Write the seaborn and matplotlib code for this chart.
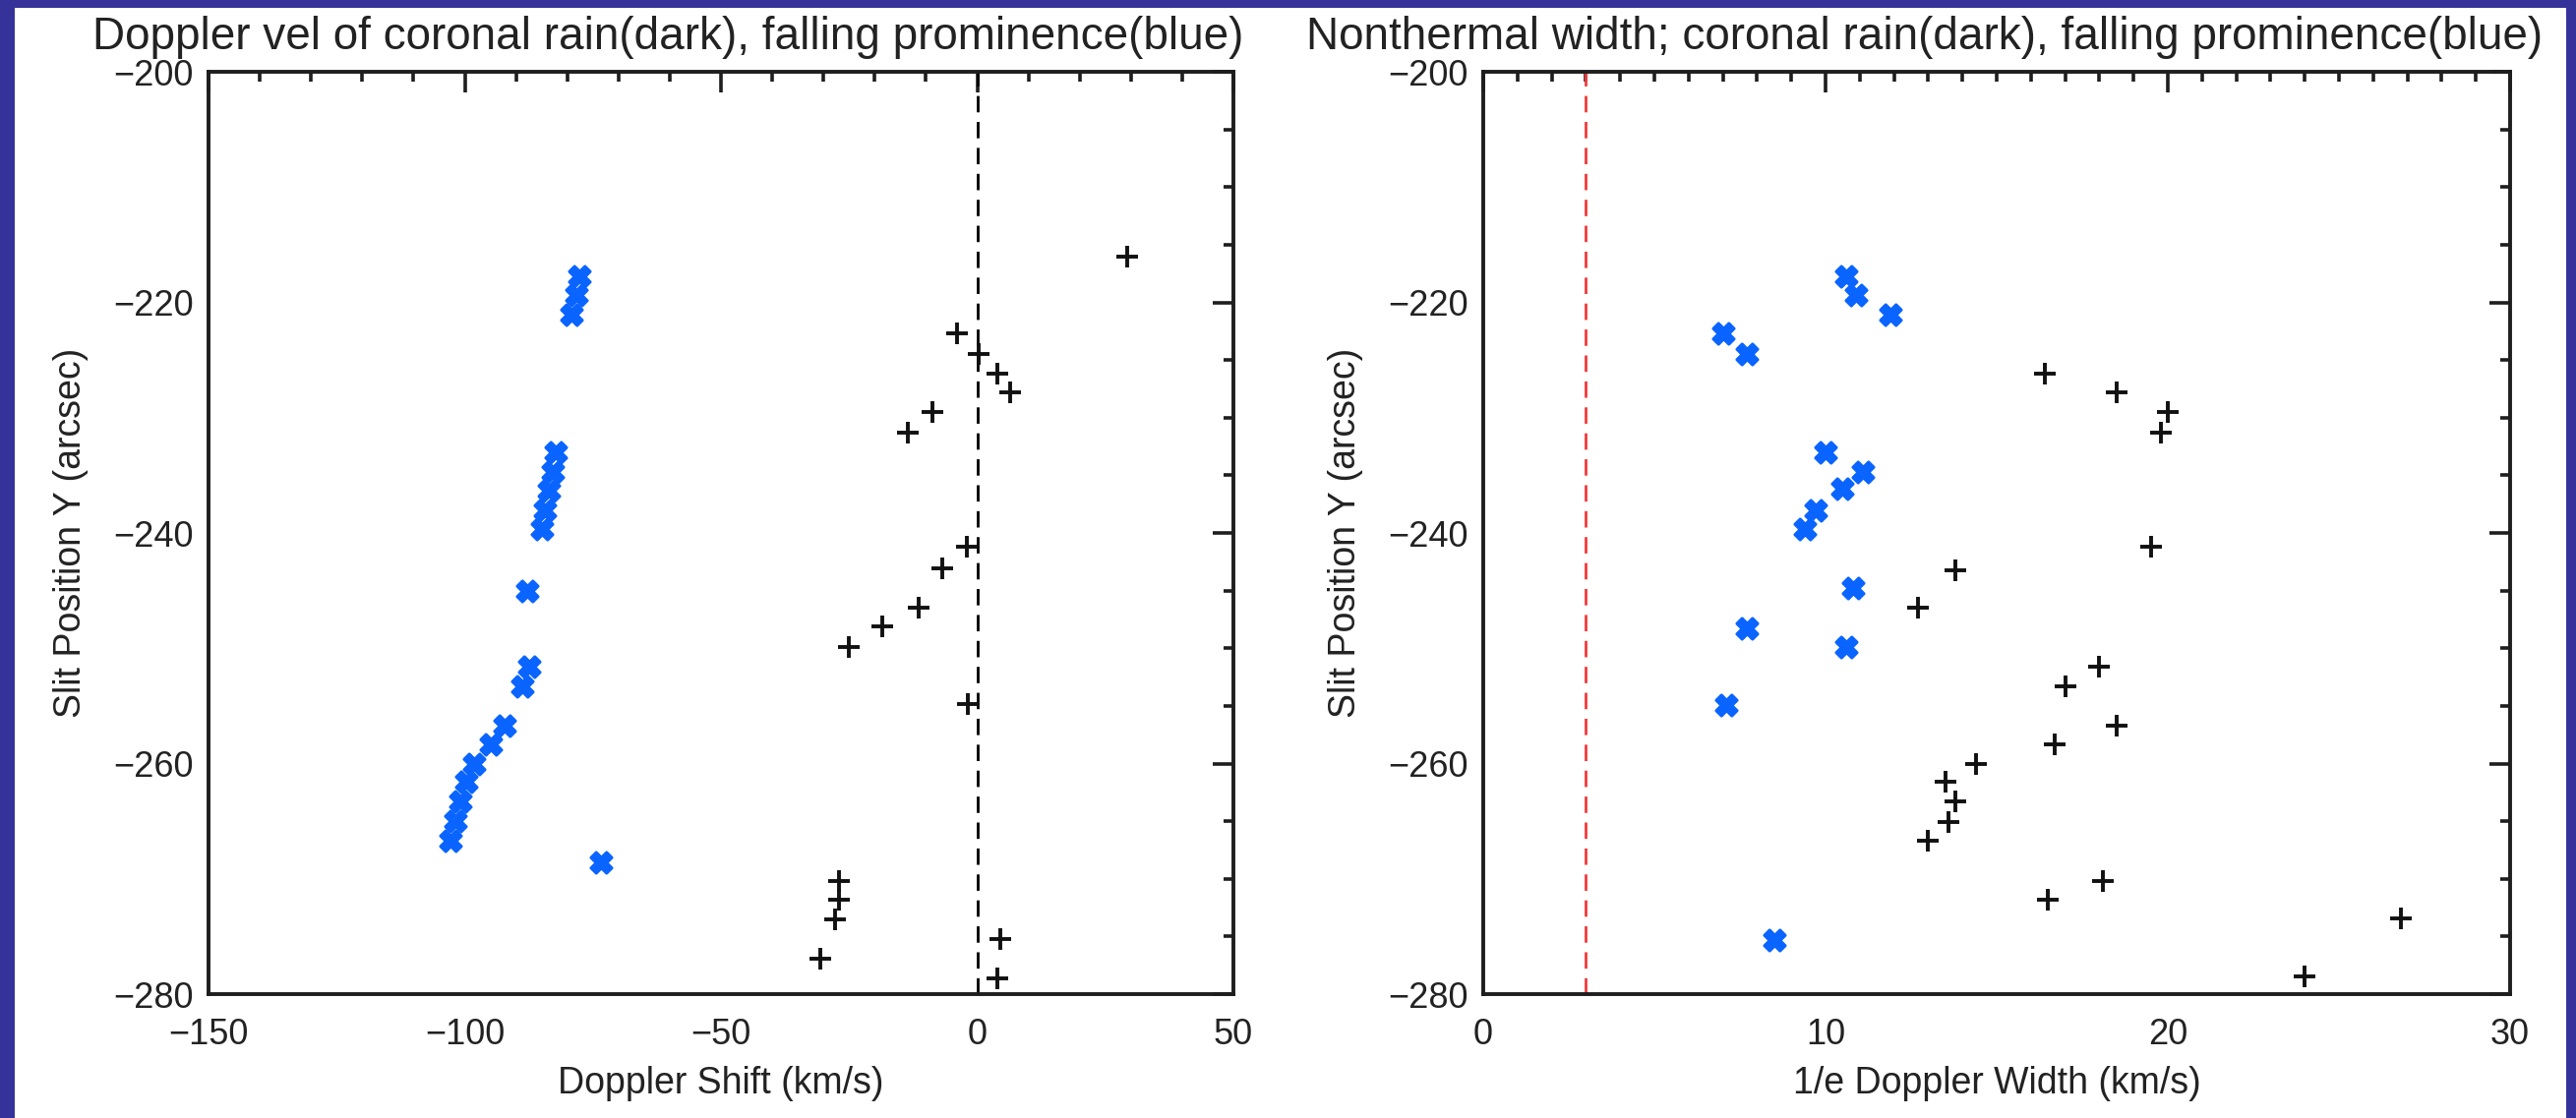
import matplotlib
matplotlib.use("Agg")
import matplotlib.pyplot as plt
from matplotlib.ticker import MultipleLocator
from matplotlib.patches import Rectangle
import pandas as pd
import seaborn as sns

# ---- Doppler velocity (left panel) ----
rain_vel = [29.2, -4.0, 0.3, 4.0, 6.4, -8.8, -13.6, -2.1, -6.9, -11.4,
            -18.6, -25.0, -1.8, -26.9, -26.9, -27.7, -30.6, 4.6, 4.0]
rain_vel_y = [-216.0, -222.7, -224.5, -226.2, -227.8, -229.5, -231.3, -241.2,
              -243.1, -246.5, -248.1, -249.9, -254.8, -270.2, -271.8, -273.5,
              -276.9, -275.2, -278.6]
prom_vel = [-77.6, -78.3, -79.2, -82.3, -82.9, -83.6, -84.4, -85.0, -87.8,
            -87.5, -88.8, -92.2, -95.0, -98.2, -99.7, -100.8, -101.8, -102.8,
            -73.4]
prom_vel_y = [-217.7, -219.4, -221.1, -233.0, -234.7, -236.3, -238.0, -239.7,
              -245.0, -251.6, -253.3, -256.7, -258.3, -260.0, -261.6, -263.3,
              -265.0, -266.7, -268.6]

# ---- Nonthermal width (right panel) ----
rain_width = [16.4, 18.5, 20.0, 19.8, 19.5, 13.8, 12.7, 18.0, 17.0, 18.5,
              16.7, 14.4, 13.5, 13.8, 13.6, 13.0, 18.1, 16.5, 26.8, 24.0]
rain_width_y = [-226.2, -227.8, -229.5, -231.3, -241.2, -243.2, -246.5, -251.6,
                -253.3, -256.7, -258.3, -260.0, -261.6, -263.3, -265.1, -266.7,
                -270.2, -271.8, -273.4, -278.5]
prom_width = [10.6, 10.9, 11.9, 7.0, 7.7, 10.0, 11.1, 10.5, 9.7, 9.4, 10.8,
              7.7, 10.6, 7.1, 8.5]
prom_width_y = [-217.7, -219.4, -221.1, -222.7, -224.5, -233.0, -234.7,
                -236.2, -238.0, -239.7, -244.8, -248.3, -249.9, -254.9, -275.3]

vel_ref = 0.0      # zero-velocity reference
width_ref = 3.0    # instrumental width reference

titles = ["Doppler vel of coronal rain(dark), falling prominence(blue)",
          "Nonthermal width; coronal rain(dark), falling prominence(blue)"]
xlabels = ["Doppler Shift (km/s)", "1/e Doppler Width (km/s)"]
ylabel = "Slit Position Y (arcsec)"

sns.set_style("white")
plt.rcParams["font.family"] = ["Liberation Sans", "DejaVu Sans"]

BORDER = "#35339a"
RAIN = "#111111"
PROM = "#0a64ff"
AXC = "#1e1e1e"

fig = plt.figure(figsize=(26.19, 11.37), dpi=100, facecolor=BORDER)
fig.patches.append(Rectangle((15 / 2619, 0), (2609 - 15) / 2619, 1 - 8 / 1137,
                             transform=fig.transFigure, facecolor="white",
                             edgecolor="none", zorder=-10))

ax1 = fig.add_axes([212 / 2619, 1 - 1011 / 1137, 1042 / 2619, 938 / 1137])
ax2 = fig.add_axes([1508 / 2619, 1 - 1011 / 1137, 1044 / 2619, 938 / 1137])

panels = [
    (ax1, rain_vel, rain_vel_y, prom_vel, prom_vel_y, (-150, 50), 50, 10,
     vel_ref, "black"),
    (ax2, rain_width, rain_width_y, prom_width, prom_width_y, (0, 30), 10, 1,
     width_ref, "#f03a3a"),
]

for ax, rx, ry, px, py, xlim, xmaj, xmin, ref, refc in panels:
    ax.set_zorder(5)
    ax.set_facecolor("white")
    ax.axvline(ref, color=refc, lw=2.0, dashes=(6, 3.5), zorder=1)
    rain = pd.DataFrame({"x": rx, "y": ry})
    prom = pd.DataFrame({"x": px, "y": py})
    sns.scatterplot(data=prom, x="x", y="y", ax=ax, marker="X", s=230,
                    color=PROM, edgecolor=PROM, linewidth=2.2, zorder=3)
    sns.scatterplot(data=rain, x="x", y="y", ax=ax, marker="+", s=240,
                    color=RAIN, linewidth=2.8, zorder=4)
    ax.set_xlim(*xlim)
    ax.set_ylim(-280, -200)
    ax.xaxis.set_major_locator(MultipleLocator(xmaj))
    ax.xaxis.set_minor_locator(MultipleLocator(xmin))
    ax.yaxis.set_major_locator(MultipleLocator(20))
    ax.yaxis.set_minor_locator(MultipleLocator(5))
    ax.tick_params(which="both", direction="in", top=True, right=True,
                   color=AXC, width=2.6, labelsize=26, labelcolor="#222222")
    ax.tick_params(which="major", length=15)
    ax.tick_params(which="minor", length=7.5)
    ax.tick_params(axis="x", pad=17)
    ax.tick_params(axis="y", pad=11)
    for sp in ax.spines.values():
        sp.set_color(AXC)
        sp.set_linewidth(2.8)
        sp.set_visible(True)

for ax, xl in zip([ax1, ax2], xlabels):
    ax.set_xlabel(xl, fontsize=27, color="#222222", labelpad=10)
    ax.set_ylabel(ylabel, fontsize=27, color="#222222", labelpad=18)

fig.text(679 / 2619, 1 - 50 / 1137, titles[0], ha="center", va="baseline",
         fontsize=33, color="#222222")
fig.text(1957 / 2619, 1 - 50 / 1137, titles[1], ha="center", va="baseline",
         fontsize=33, color="#222222")

fig.savefig("out.png", dpi=100, facecolor=BORDER)
